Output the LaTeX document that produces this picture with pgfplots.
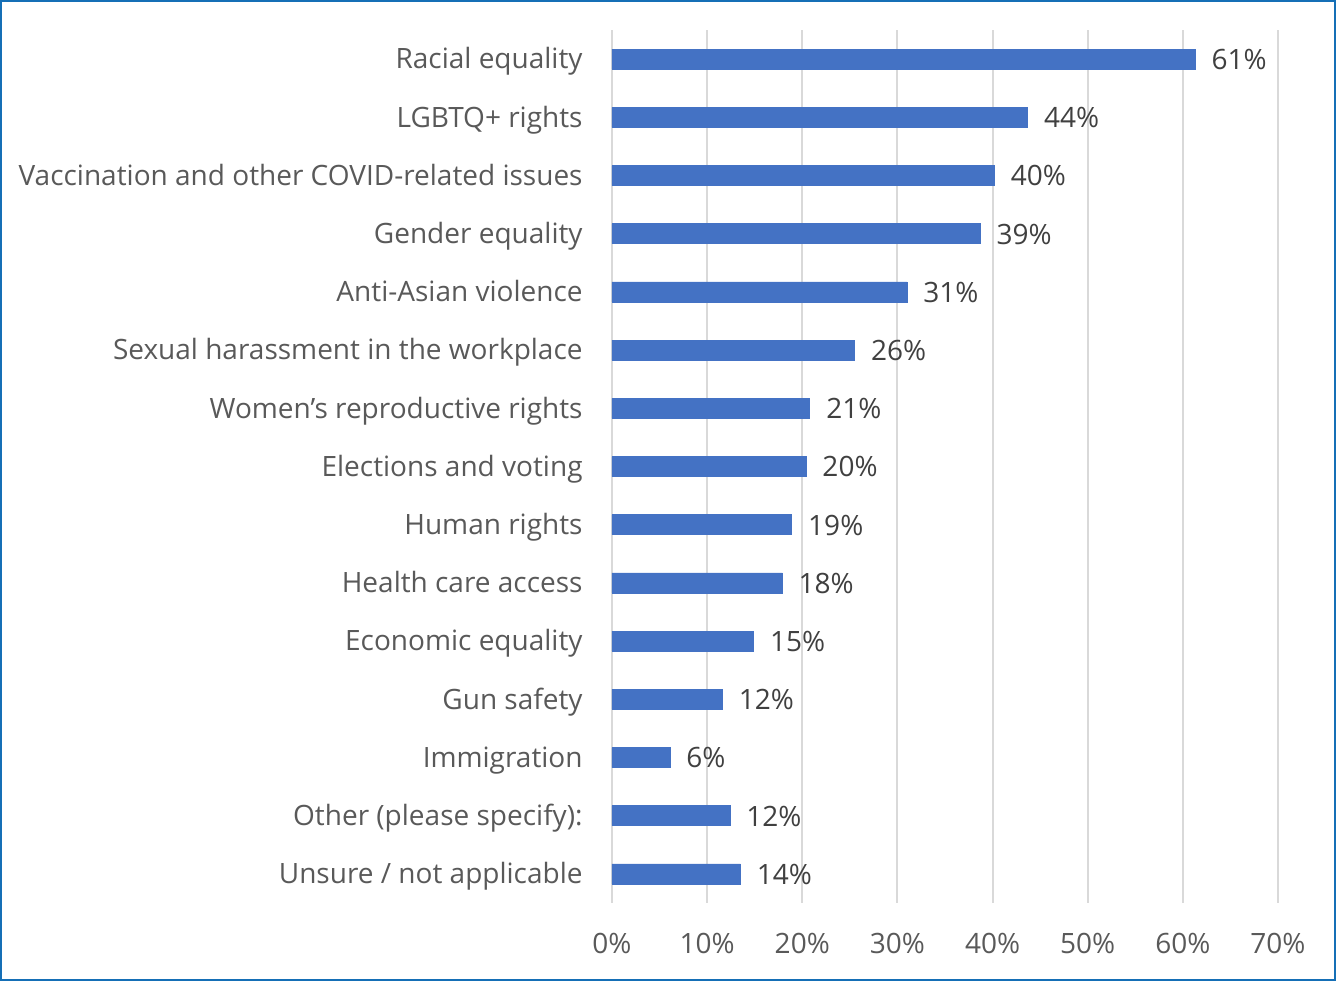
\documentclass[border=0pt]{standalone}
\usepackage{pgfplots}
\pgfplotsset{compat=1.18}
\usepackage{pgfplotstable}
\usepackage{fontspec}
\setmainfont{Open Sans}
\definecolor{barblue}{HTML}{4472C4}
\definecolor{gridgray}{HTML}{D9D9D9}
\definecolor{ticktext}{HTML}{595959}
\definecolor{valtext}{HTML}{404040}
\definecolor{frameblue}{RGB}{21,111,182}
\pgfplotstableread{
pos value label
0 61.3 61
1 43.7 44
2 40.2 40
3 38.7 39
4 31.0 31
5 25.5 26
6 20.8 21
7 20.4 20
8 18.9 19
9 17.9 18
10 14.9 15
11 11.6 12
12 6.1 6
13 12.4 12
14 13.5 14
}\datatable
\newcommand{\lblfont}{\fontsize{14}{17}\selectfont}
\begin{document}
\begin{tikzpicture}
\path[use as bounding box] (-306pt,-39pt) rectangle (362pt,451.5pt);
\draw[frameblue, line width=1pt] (-305.5pt,-38.5pt) rectangle (361.5pt,451pt);
\begin{axis}[
  at={(0,0)}, anchor=south west,
  width=333pt, height=436.5pt, scale only axis,
  xmin=0, xmax=70,
  ymin=-0.5, ymax=14.5,
  y dir=reverse,
  xbar, bar width=0.344,
  axis line style={draw=none},
  major tick length=0pt,
  xmajorgrids, major x grid style={gridgray, line width=1pt},
  xtick={0,10,...,70},
  xticklabels={0\%,10\%,20\%,30\%,40\%,50\%,60\%,70\%},
  xticklabel style={anchor=base, inner sep=0pt, yshift=-25pt, font=\lblfont, text=ticktext},
  ytick={0,...,14},
  yticklabels={Racial equality, LGBTQ+ rights, Vaccination and other COVID-related issues, Gender equality, Anti-Asian violence, Sexual harassment in the workplace, Women’s reproductive rights, Elections and voting, Human rights, Health care access, Economic equality, Gun safety, Immigration, Other (please specify):, Unsure / not applicable},
  yticklabel style={anchor=base east, inner sep=0pt, xshift=-14.5pt, yshift=-4.9pt, font=\lblfont, text=ticktext},
  point meta=explicit,
  nodes near coords={\pgfmathprintnumber[assume math mode=true]{\pgfplotspointmeta}\%},
  nodes near coords style={anchor=base west, inner sep=0pt, xshift=8pt, yshift=-5.2pt, font=\lblfont, text=valtext},
]
\addplot[fill=barblue, draw=barblue] table[x=value, y=pos, meta=label] {\datatable};
\end{axis}
\end{tikzpicture}
\end{document}
